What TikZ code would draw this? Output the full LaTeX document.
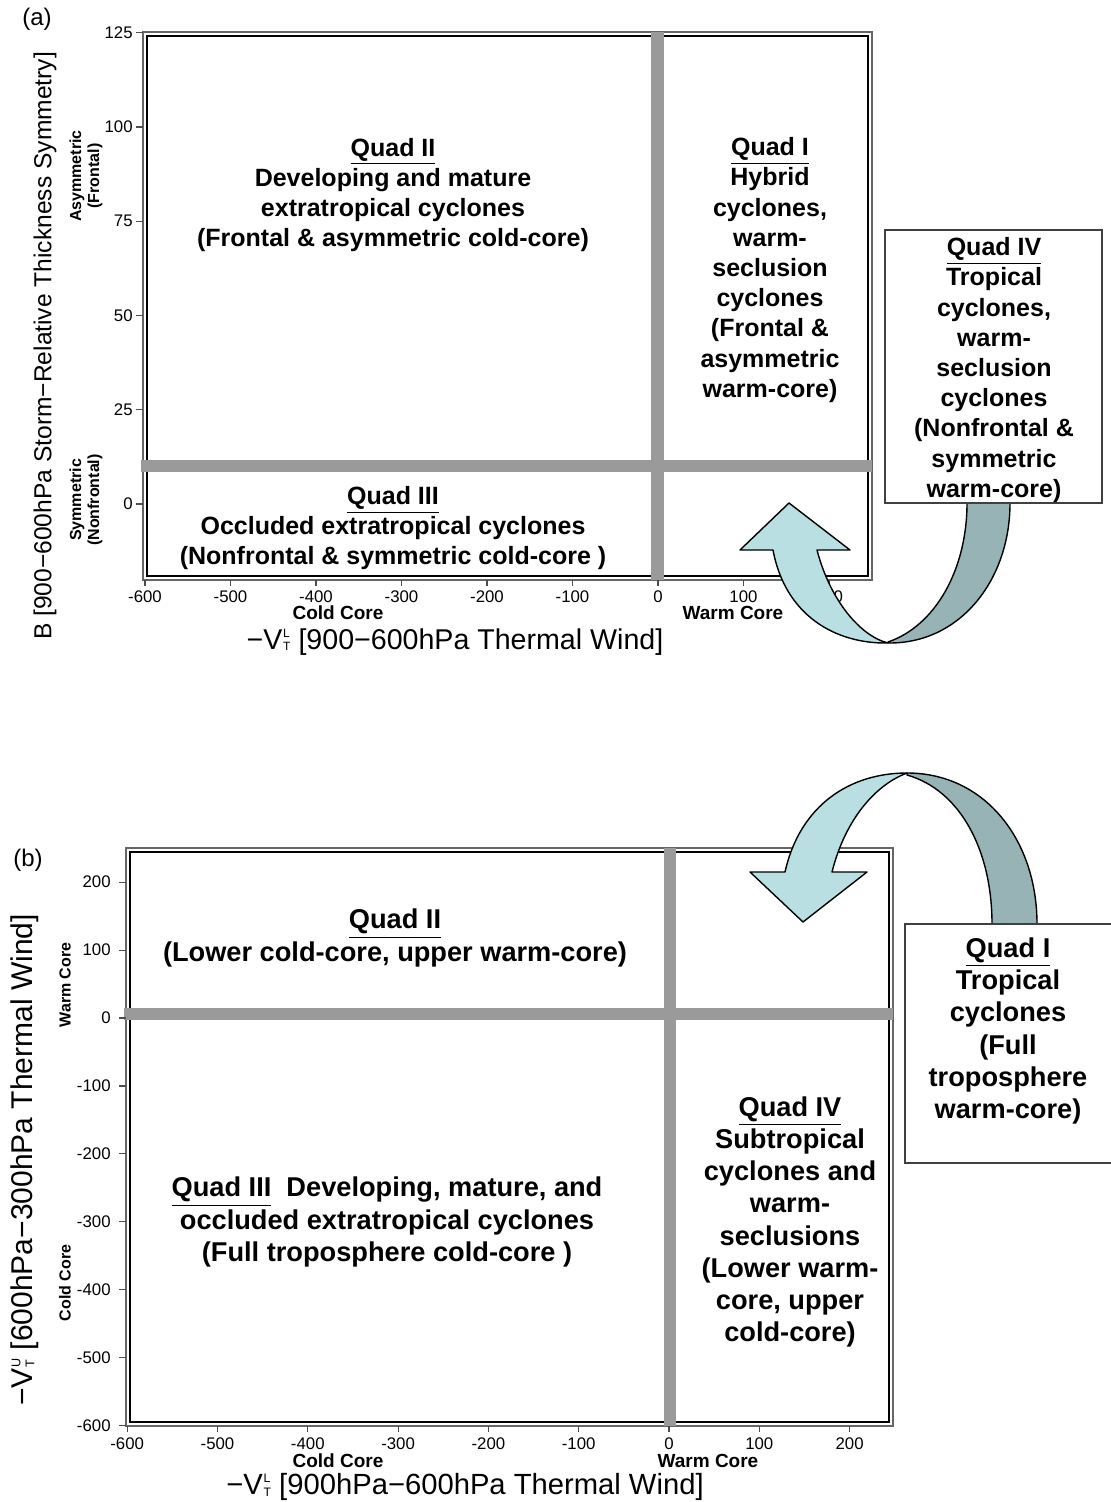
\documentclass[tikz,border=0pt]{standalone}
\usepackage{fontspec}
\setmainfont{Liberation Sans}
\definecolor{barg}{HTML}{9A9A9A}
\definecolor{arrlight}{HTML}{BADFE2}
\definecolor{arrdark}{HTML}{97B3B6}
\newcommand{\vtsym}[1]{V\kern0.4pt\raisebox{-0.05em}{\scalebox{0.42}{\shortstack[l]{#1\\[3pt]T}}}}
\tikzset{
  frameouter/.style={draw=black!60, line width=1pt},
  frameinner/.style={draw=black, line width=1.1pt},
  tickline/.style={draw=black!70, line width=0.6pt},
  ticklab/.style={font=\fontsize{8.4}{9}\selectfont, inner sep=0pt},
  corelab/.style={font=\bfseries\fontsize{9.5}{10}\selectfont, inner sep=0pt},
  sidelab/.style={font=\bfseries\fontsize{8}{9}\selectfont, inner sep=0pt, align=center, rotate=90},
  quada/.style={align=center, font=\bfseries\fontsize{12.5}{15.1}\selectfont, inner sep=0pt},
  quadb/.style={align=center, font=\bfseries\fontsize{13.6}{16.1}\selectfont, inner sep=0pt},
  qbox/.style={draw=black!75, line width=0.9pt, fill=white},
  lightpart/.style={fill=arrlight, draw=black, line width=0.7pt, line join=round},
  darkpart/.style={fill=arrdark, draw=black, line width=0.7pt, line join=round},
  panellab/.style={font=\fontsize{12}{14}\selectfont, inner sep=0pt},
  title/.style={inner sep=0pt}
}
\begin{document}
\begin{tikzpicture}[x=0.5pt,y=-0.5pt]
\useasboundingbox (0,0) rectangle (1111,1502);
\fill[white] (0,0) rectangle (1111,1502);

%================ PANEL (a) ================
\node[panellab] (lblA) at (37,19) {(a)};
\draw[frameouter] (143,32) rectangle (872,580);
\draw[frameinner] (147,36) rectangle (868,576);
\fill[barg] (651,32) rectangle (664,580);
\fill[barg] (141,460) rectangle (872,472);

\foreach \v [count=\i] in {125,100,75,50,25,0} {
  \draw[tickline] (136,{504-3.77*\v}) -- (143,{504-3.77*\v});
  \node[ticklab, anchor=east] (ya\i) at (133,{504-3.77*\v}) {\v};
}
\foreach \v [count=\i] in {-600,-500,-400,-300,-200,-100,0,100,200} {
  \draw[tickline] ({658+0.855*\v},580) -- ({658+0.855*\v},586);
  \node[ticklab] (xa\i) at ({658+0.855*\v},597) {\v};
}
\node[corelab] (coldA) at (338,613) {Cold Core};
\node[corelab] (warmA) at (733,613) {Warm Core};
\node[title, font=\fontsize{14.3}{16}\selectfont] (xtA) at (455,642)
  {−\vtsym{L} [900−600hPa Thermal Wind]};
\node[title, rotate=90, font=\fontsize{12.3}{14}\selectfont] (ytA) at (45,346)
  {B [900−600hPa Storm−Relative Thickness Symmetry]};
\node[sidelab] (asymA) at (86,176) {Asymmetric\\(Frontal)};
\node[sidelab] (symA) at (86,500) {Symmetric\\(Nonfrontal)};

\node[quada] (q2A) at (393,195) {\underline{Quad II}\\Developing and mature\\extratropical cyclones\\(Frontal \& asymmetric cold-core)};
\node[quada] (q1A) at (770,270) {\underline{Quad I}\\Hybrid\\cyclones,\\warm-\\seclusion\\cyclones\\(Frontal \&\\asymmetric\\warm-core)};
\node[quada] (q3A) at (393,528) {\underline{Quad III}\\Occluded extratropical cyclones\\(Nonfrontal \& symmetric cold-core )};

% curved arrow (a)
\coordinate (aTip) at (789,503);
\coordinate (aBottom) at (888,643);
\draw[darkpart] (888,642) .. controls (935,626) and (967,570) .. (967,503)
  -- (1010,503) .. controls (1010,580) and (960,644) .. (888,643) -- cycle;
\draw[lightpart] (773,550) .. controls (785,615) and (835,644) .. (888,643)
  .. controls (860,636) and (830,600) .. (817,550)
  -- (850,550) -- (aTip) -- (740,550) -- cycle;

\draw[qbox] (885,230) rectangle (1102,503);
\node[quada] (q4A) at (994,370) {\underline{Quad IV}\\Tropical\\cyclones,\\warm-\\seclusion\\cyclones\\(Nonfrontal \&\\symmetric\\warm-core)};

%================ PANEL (b) ================
\node[panellab] (lblB) at (28,860) {(b)};
\draw[frameouter] (126,848) rectangle (893,1426);
\draw[frameinner] (130,852) rectangle (889,1422);
\fill[barg] (664,848) rectangle (676,1426);
\fill[barg] (124,1008) rectangle (893,1020);

\foreach \v [count=\i] in {200,100,0,-100,-200,-300,-400,-500,-600} {
  \draw[tickline] (119,{1018-0.679*\v}) -- (126,{1018-0.679*\v});
  \node[ticklab, anchor=east] (yb\i) at (111,{1018-0.679*\v}) {\v};
}
\foreach \v [count=\i] in {-600,-500,-400,-300,-200,-100,0,100,200} {
  \draw[tickline] ({669+0.903*\v},1426) -- ({669+0.903*\v},1432);
  \node[ticklab] (xb\i) at ({669+0.903*\v},1444) {\v};
}
\node[corelab] (coldB) at (338,1461) {Cold Core};
\node[corelab] (warmB) at (708,1461) {Warm Core};
\node[title, font=\fontsize{14.6}{17}\selectfont] (xtB) at (465,1487)
  {−\vtsym{L} [900hPa−600hPa Thermal Wind]};
\node[title, rotate=90, font=\fontsize{15}{17}\selectfont] (ytB) at (25,1160)
  {−\vtsym{U} [600hPa−300hPa Thermal Wind]};
\node[sidelab] (warmSideB) at (65,985) {Warm Core};
\node[sidelab] (coldSideB) at (65,1283) {Cold Core};

\node[quadb] (q2B) at (395,938) {\underline{Quad II}\\(Lower cold-core, upper warm-core)};
\node[quadb] (q3B) at (387,1222) {\underline{Quad III}\ \ Developing, mature, and\\occluded extratropical cyclones\\(Full troposphere cold-core )};
\node[quadb] (q4B) at (790,1222) {\underline{Quad IV}\\Subtropical\\cyclones and\\warm-\\seclusions\\(Lower warm-\\core, upper\\cold-core)};

% curved arrow (b)
\coordinate (bTip) at (803,922);
\coordinate (bTop) at (907,774);
\draw[darkpart] (907,775) .. controls (960,790) and (992,850) .. (992,924)
  -- (1037,924) .. controls (1037,840) and (985,773) .. (907,773) -- cycle;
\draw[lightpart] (785,872) .. controls (800,805) and (850,773) .. (907,773)
  .. controls (875,785) and (845,820) .. (832,872)
  -- (867,872) -- (bTip) -- (750,872) -- cycle;

\draw[qbox] (905,924) rectangle (1113,1163);
\node[quadb] (q1B) at (1008,1031) {\underline{Quad I}\\Tropical\\cyclones\\(Full\\troposphere\\warm-core)};
\end{tikzpicture}
\end{document}
